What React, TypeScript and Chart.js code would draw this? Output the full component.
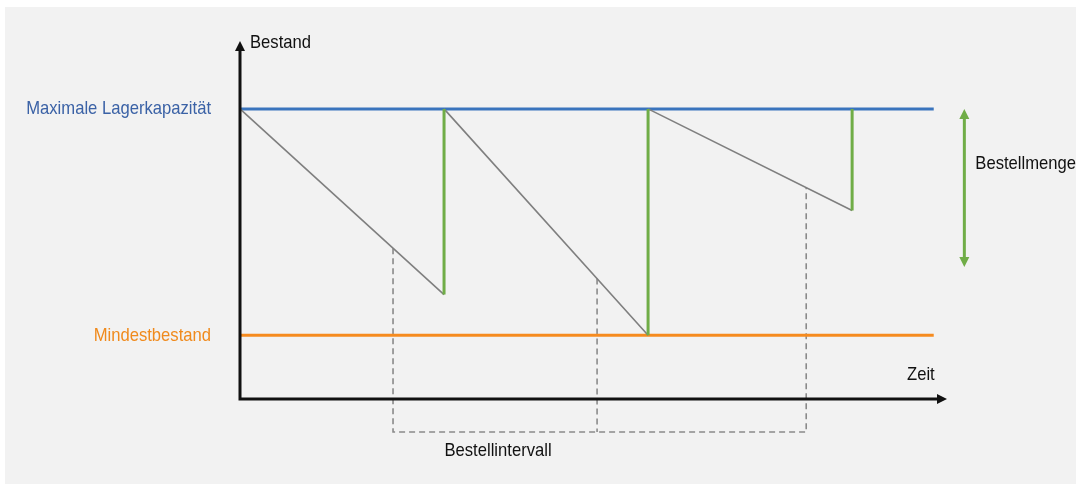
import React, { useEffect, useRef } from "react";
import { Chart, registerables } from "chart.js";

Chart.register(...registerables);

// ---- data (schematic units) ----
const cycleStarts = [0, 20, 40];
const cycleEnds = [20, 40, 60];
const stockBeforeDelivery = [36, 22, 65];
const maxCapacity = 100;
const safetyStock = 22;
const lineEnd = 68;
const reorderTimes = [15, 35, 55.5];
const intervalBaseline = -11.4;
const orderQtyArrowX = 71;
const orderQtyArrowLow = 45.5;
const xMax = 69.3;
const yMax = 123.4;

const labels = {
  yAxis: "Bestand",
  xAxis: "Zeit",
  max: "Maximale Lagerkapazität",
  min: "Mindestbestand",
  qty: "Bestellmenge",
  interval: "Bestellintervall",
};

const FONT = '"Liberation Sans", Arial, sans-serif';
const SQUEEZE = 0.875;

function levelAt(t: number): number {
  for (let i = 0; i < cycleStarts.length; i++) {
    if (t >= cycleStarts[i] && t <= cycleEnds[i]) {
      const f = (t - cycleStarts[i]) / (cycleEnds[i] - cycleStarts[i]);
      return maxCapacity + (stockBeforeDelivery[i] - maxCapacity) * f;
    }
  }
  return maxCapacity;
}

export default function App() {
  const ref = useRef<HTMLCanvasElement | null>(null);

  useEffect(() => {
    if (!ref.current) return;

    const consumption: any[] = [];
    const deliveries: any[] = [];
    cycleStarts.forEach((s, i) => {
      consumption.push({ x: s, y: maxCapacity }, { x: cycleEnds[i], y: stockBeforeDelivery[i] }, { x: cycleEnds[i], y: null });
      deliveries.push({ x: cycleEnds[i], y: stockBeforeDelivery[i] }, { x: cycleEnds[i], y: maxCapacity }, { x: cycleEnds[i] + 0.01, y: null });
    });

    const first = reorderTimes[0];
    const last = reorderTimes[reorderTimes.length - 1];
    const dashed: any[] = [
      { x: first, y: levelAt(first) },
      { x: first, y: intervalBaseline },
      { x: last, y: intervalBaseline },
      { x: last, y: levelAt(last) },
      { x: last, y: null },
    ];
    reorderTimes.slice(1, -1).forEach((t) => {
      dashed.push({ x: t, y: levelAt(t) }, { x: t, y: intervalBaseline }, { x: t + 0.01, y: null });
    });

    const bgPlugin = {
      id: "bg",
      beforeDraw(chart: any) {
        const c = chart.ctx;
        c.save();
        c.fillStyle = "#ffffff";
        c.fillRect(0, 0, chart.width, chart.height);
        c.fillStyle = "#f2f2f2";
        c.fillRect(5, 7, chart.width - 6, chart.height - 7);
        c.restore();
      },
    };

    const tri = (c: any, tx: number, ty: number, dx: number, dy: number, len: number, half: number) => {
      const bx = tx - dx * len;
      const by = ty - dy * len;
      c.beginPath();
      c.moveTo(tx, ty);
      c.lineTo(bx - dy * half, by + dx * half);
      c.lineTo(bx + dy * half, by - dx * half);
      c.closePath();
      c.fill();
    };

    const decoPlugin = {
      id: "deco",
      afterDatasetsDraw(chart: any) {
        const c = chart.ctx;
        const xs = chart.scales.x;
        const ys = chart.scales.y;
        const X = (v: number) => xs.getPixelForValue(v);
        const Y = (v: number) => ys.getPixelForValue(v);
        const ca = chart.chartArea;
        c.save();

        // axes
        c.strokeStyle = "#111111";
        c.fillStyle = "#111111";
        c.lineWidth = 3;
        c.lineCap = "butt";
        c.lineJoin = "miter";
        const ox = X(0);
        const oy = Y(0);
        c.beginPath();
        c.moveTo(ox, ca.top + 6);
        c.lineTo(ox, oy);
        c.lineTo(ca.right - 6, oy);
        c.stroke();
        tri(c, ox, ca.top, 0, -1, 10, 5);
        tri(c, ca.right, oy, 1, 0, 10, 5);

        // order quantity double arrow
        const ax = X(orderQtyArrowX);
        const aTop = Y(maxCapacity);
        const aBot = Y(orderQtyArrowLow);
        c.strokeStyle = "#70ad47";
        c.fillStyle = "#70ad47";
        c.lineWidth = 3;
        c.beginPath();
        c.moveTo(ax, aTop + 6);
        c.lineTo(ax, aBot - 6);
        c.stroke();
        tri(c, ax, aTop, 0, -1, 10, 5);
        tri(c, ax, aBot, 0, 1, 10, 5);

        // texts
        const txt = (s: string, x: number, y: number, align: string, color: string) => {
          c.save();
          c.translate(x, y);
          c.scale(SQUEEZE, 1);
          c.font = `19px ${FONT}`;
          c.textBaseline = "middle";
          c.textAlign = align;
          c.fillStyle = color;
          c.fillText(s, 0, 0);
          c.restore();
        };
        txt(labels.max, ox - 29, Y(maxCapacity), "right", "#3b62a6");
        txt(labels.min, ox - 29, Y(safetyStock) + 1, "right", "#f08a1c");
        txt(labels.yAxis, ox + 10, ca.top + 2, "left", "#111111");
        txt(labels.xAxis, X(lineEnd) + 1, Y(8.3), "right", "#111111");
        txt(labels.qty, ax + 11, Y(81), "left", "#111111");
        txt(labels.interval, (X(first) + X(reorderTimes[1])) / 2 + 3, Y(intervalBaseline) + 19, "center", "#111111");
        c.restore();
      },
    };

    const chart = new Chart(ref.current, {
      type: "line",
      data: {
        datasets: [
          {
            label: "Maximale Lagerkapazität",
            data: [{ x: 0, y: maxCapacity }, { x: lineEnd, y: maxCapacity }],
            borderColor: "#3a74bd",
            borderWidth: 3,
            pointRadius: 0,
            order: 3,
          },
          {
            label: "Mindestbestand",
            data: [{ x: 0, y: safetyStock }, { x: lineEnd, y: safetyStock }],
            borderColor: "#f68b1f",
            borderWidth: 3,
            pointRadius: 0,
            order: 3,
          },
          {
            label: "Verbrauch",
            data: consumption,
            borderColor: "#7f7f7f",
            borderWidth: 1.6,
            pointRadius: 0,
            spanGaps: false,
            order: 2,
          },
          {
            label: "Lieferung",
            data: deliveries,
            borderColor: "#70ad47",
            borderWidth: 3,
            pointRadius: 0,
            spanGaps: false,
            order: 1,
          },
          {
            label: "Bestellintervall",
            data: dashed,
            borderColor: "#8a8a8a",
            borderWidth: 1.6,
            borderDash: [6, 4],
            pointRadius: 0,
            spanGaps: false,
            clip: false as any,
            order: 5,
          },
        ],
      },
      options: {
        animation: false,
        responsive: false,
        events: [],
        layout: { padding: { left: 240, right: 130, top: 41, bottom: 85 } },
        plugins: { legend: { display: false }, tooltip: { enabled: false } },
        scales: {
          x: { type: "linear", min: 0, max: xMax, display: false },
          y: { type: "linear", min: 0, max: yMax, display: false },
        },
      },
      plugins: [bgPlugin, decoPlugin],
    });

    return () => chart.destroy();
  }, []);

  return (
    <div style={{ position: "absolute", left: 0, top: 0, width: 1077, height: 484 }}>
      <canvas ref={ref} width={1077} height={484} style={{ display: "block" }} />
    </div>
  );
}
